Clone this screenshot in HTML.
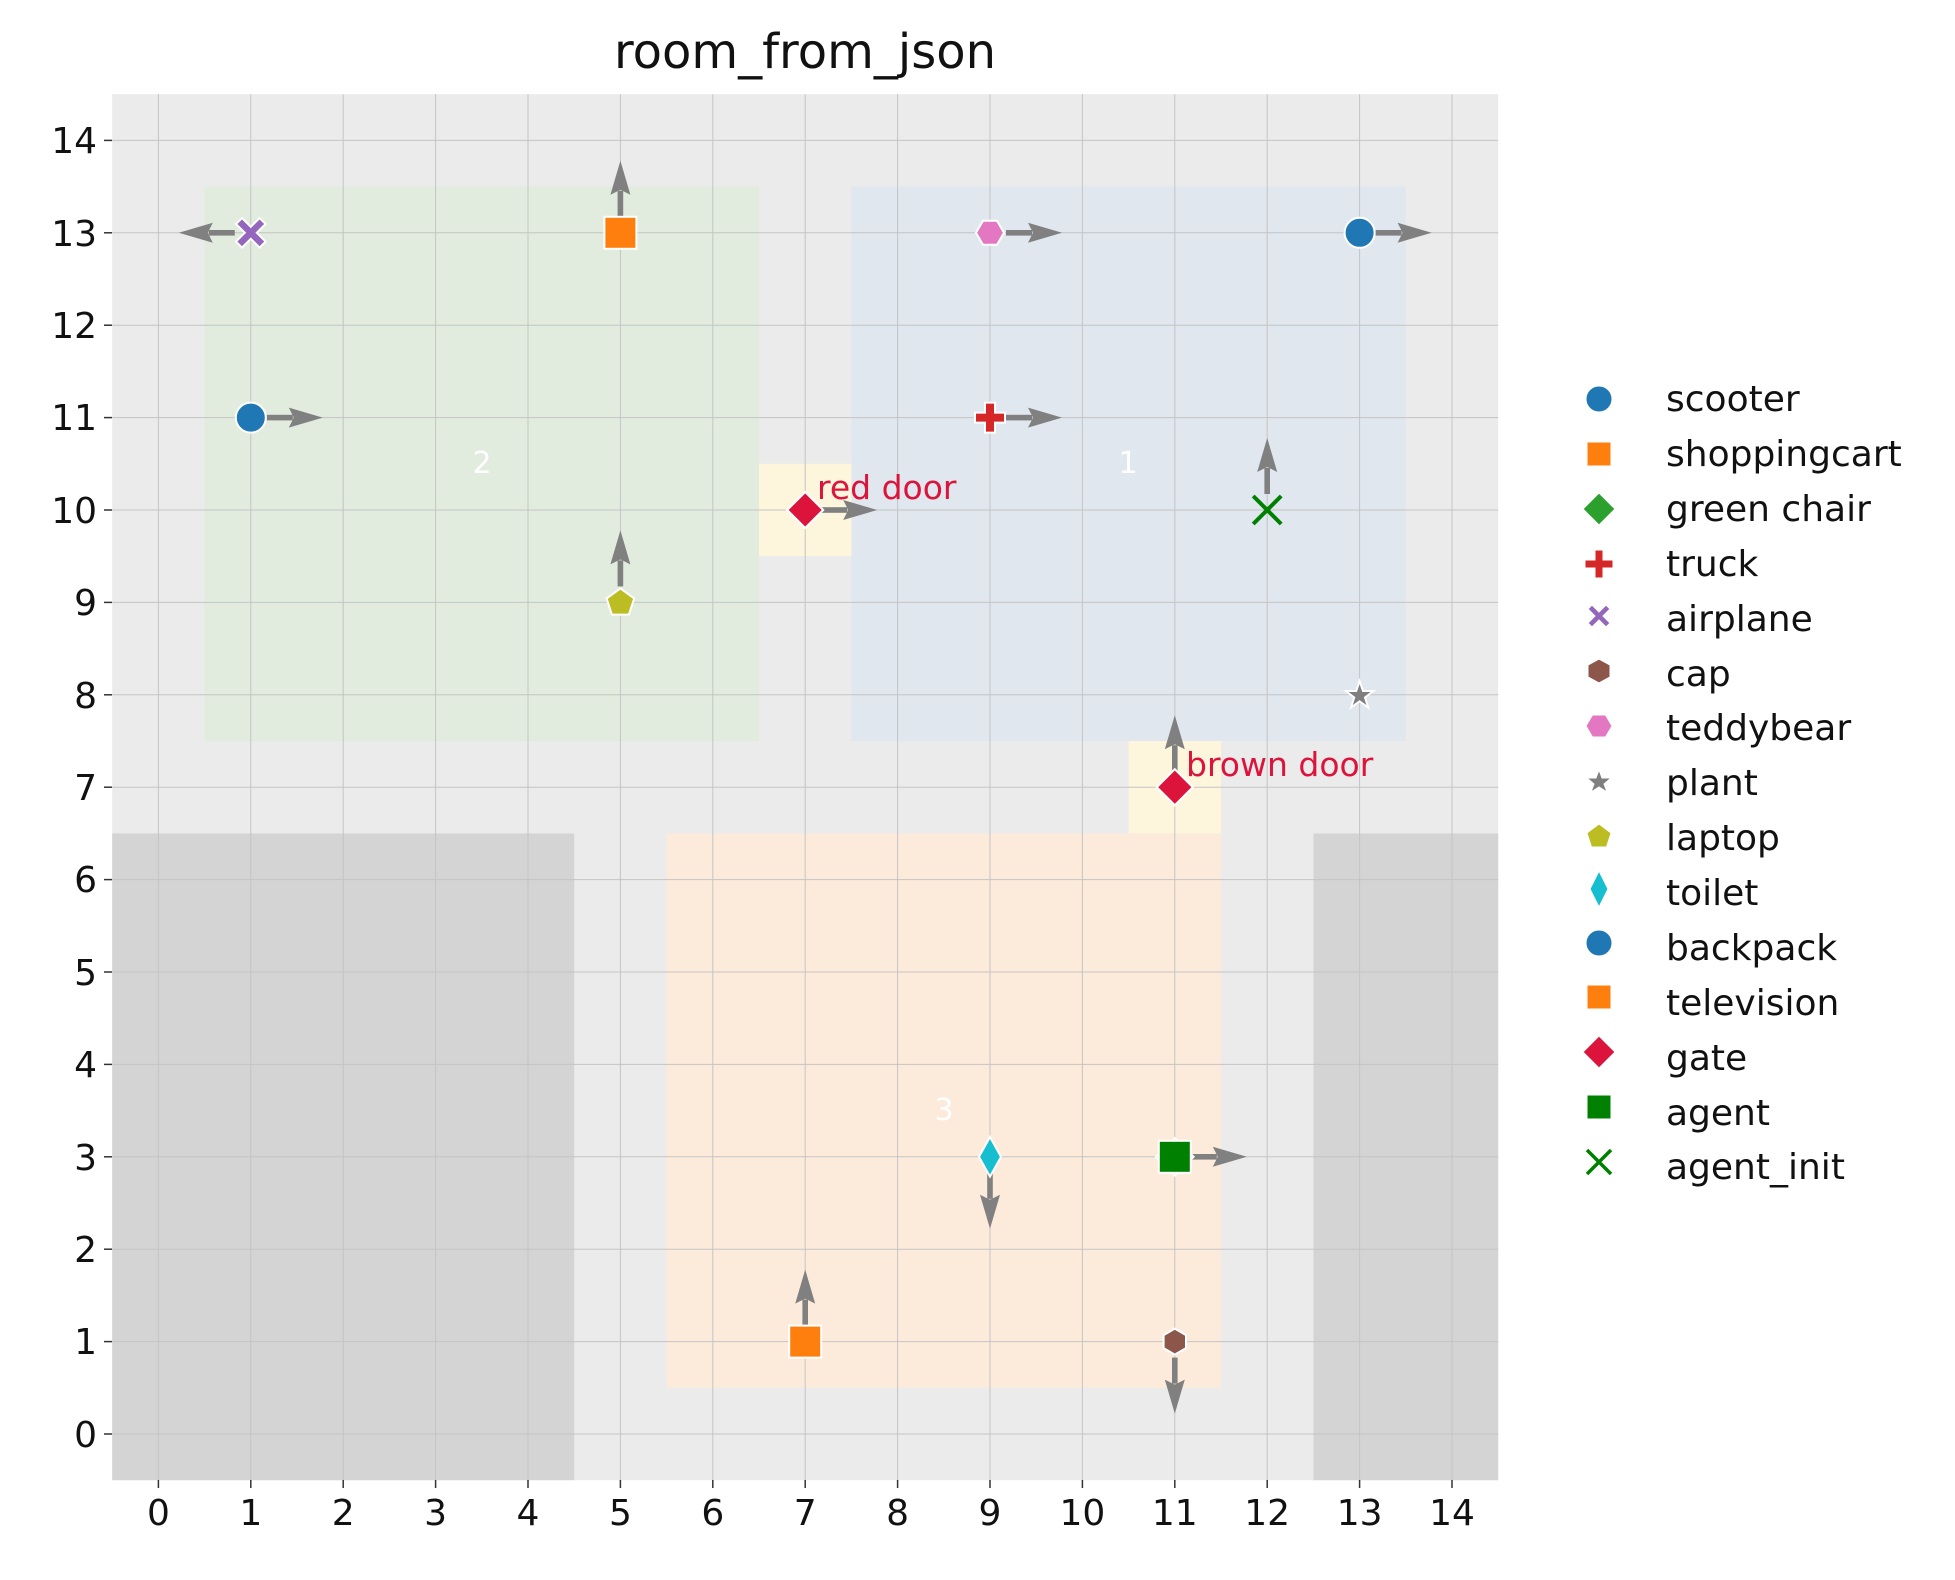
<!DOCTYPE html>
<html><head><meta charset="utf-8"><style>body{margin:0;background:#fff}svg{display:block;font-family:"DejaVu Sans","Liberation Sans",sans-serif}</style></head>
<body>
<svg width="1955" height="1580" viewBox="0 0 1955 1580" xmlns="http://www.w3.org/2000/svg">
<defs>
<g id="ar"><rect x="16" y="-2.8" width="26" height="5.6" fill="#808080"/><polygon points="38,-10 72,0 38,10 43,0" fill="#808080"/></g>
</defs>
<rect x="112.2" y="94.2" width="1386" height="1386" fill="#ebebeb"/>
<rect x="204.6" y="186.6" width="554.4" height="554.4" fill="#e1ecdf"/>
<rect x="851.4" y="186.6" width="554.4" height="554.4" fill="#e0e7ee"/>
<rect x="666.6" y="833.4" width="554.4" height="554.4" fill="#fcebdb"/>
<rect x="759" y="463.8" width="92.4" height="92.4" fill="#fdf6dc"/>
<rect x="1128.6" y="741" width="92.4" height="92.4" fill="#fdf6dc"/>
<rect x="112.2" y="833.4" width="462" height="646.8" fill="#d4d4d4"/>
<rect x="1313.4" y="833.4" width="184.8" height="646.8" fill="#d4d4d4"/>
<g stroke="#c4c4c4" stroke-width="1">
<line x1="158.4" y1="94.2" x2="158.4" y2="1480.2"/><line x1="250.8" y1="94.2" x2="250.8" y2="1480.2"/><line x1="343.2" y1="94.2" x2="343.2" y2="1480.2"/><line x1="435.6" y1="94.2" x2="435.6" y2="1480.2"/><line x1="528" y1="94.2" x2="528" y2="1480.2"/><line x1="620.4" y1="94.2" x2="620.4" y2="1480.2"/><line x1="712.8" y1="94.2" x2="712.8" y2="1480.2"/><line x1="805.2" y1="94.2" x2="805.2" y2="1480.2"/><line x1="897.6" y1="94.2" x2="897.6" y2="1480.2"/><line x1="990" y1="94.2" x2="990" y2="1480.2"/><line x1="1082.4" y1="94.2" x2="1082.4" y2="1480.2"/><line x1="1174.8" y1="94.2" x2="1174.8" y2="1480.2"/><line x1="1267.2" y1="94.2" x2="1267.2" y2="1480.2"/><line x1="1359.6" y1="94.2" x2="1359.6" y2="1480.2"/><line x1="1452" y1="94.2" x2="1452" y2="1480.2"/>
<line x1="112.2" y1="1434" x2="1498.2" y2="1434"/><line x1="112.2" y1="1341.6" x2="1498.2" y2="1341.6"/><line x1="112.2" y1="1249.2" x2="1498.2" y2="1249.2"/><line x1="112.2" y1="1156.8" x2="1498.2" y2="1156.8"/><line x1="112.2" y1="1064.4" x2="1498.2" y2="1064.4"/><line x1="112.2" y1="972" x2="1498.2" y2="972"/><line x1="112.2" y1="879.6" x2="1498.2" y2="879.6"/><line x1="112.2" y1="787.2" x2="1498.2" y2="787.2"/><line x1="112.2" y1="694.8" x2="1498.2" y2="694.8"/><line x1="112.2" y1="602.4" x2="1498.2" y2="602.4"/><line x1="112.2" y1="510" x2="1498.2" y2="510"/><line x1="112.2" y1="417.6" x2="1498.2" y2="417.6"/><line x1="112.2" y1="325.2" x2="1498.2" y2="325.2"/><line x1="112.2" y1="232.8" x2="1498.2" y2="232.8"/><line x1="112.2" y1="140.4" x2="1498.2" y2="140.4"/>
</g>
<g fill="#fff" font-size="30" text-anchor="middle">
<text x="482" y="473">2</text><text x="1128" y="473">1</text><text x="944" y="1120">3</text>
</g>
<g stroke="#333" stroke-width="1.5">
<line x1="104" y1="1434" x2="112" y2="1434"/><line x1="104" y1="1341.6" x2="112" y2="1341.6"/><line x1="104" y1="1249.2" x2="112" y2="1249.2"/><line x1="104" y1="1156.8" x2="112" y2="1156.8"/><line x1="104" y1="1064.4" x2="112" y2="1064.4"/><line x1="104" y1="972" x2="112" y2="972"/><line x1="104" y1="879.6" x2="112" y2="879.6"/><line x1="104" y1="787.2" x2="112" y2="787.2"/><line x1="104" y1="694.8" x2="112" y2="694.8"/><line x1="104" y1="602.4" x2="112" y2="602.4"/><line x1="104" y1="510" x2="112" y2="510"/><line x1="104" y1="417.6" x2="112" y2="417.6"/><line x1="104" y1="325.2" x2="112" y2="325.2"/><line x1="104" y1="232.8" x2="112" y2="232.8"/><line x1="104" y1="140.4" x2="112" y2="140.4"/>
<line x1="158.4" y1="1480" x2="158.4" y2="1488"/><line x1="250.8" y1="1480" x2="250.8" y2="1488"/><line x1="343.2" y1="1480" x2="343.2" y2="1488"/><line x1="435.6" y1="1480" x2="435.6" y2="1488"/><line x1="528" y1="1480" x2="528" y2="1488"/><line x1="620.4" y1="1480" x2="620.4" y2="1488"/><line x1="712.8" y1="1480" x2="712.8" y2="1488"/><line x1="805.2" y1="1480" x2="805.2" y2="1488"/><line x1="897.6" y1="1480" x2="897.6" y2="1488"/><line x1="990" y1="1480" x2="990" y2="1488"/><line x1="1082.4" y1="1480" x2="1082.4" y2="1488"/><line x1="1174.8" y1="1480" x2="1174.8" y2="1488"/><line x1="1267.2" y1="1480" x2="1267.2" y2="1488"/><line x1="1359.6" y1="1480" x2="1359.6" y2="1488"/><line x1="1452" y1="1480" x2="1452" y2="1488"/>
</g>
<g font-size="36" fill="#111" text-anchor="end">
<text x="97" y="1447">0</text><text x="97" y="1354">1</text><text x="97" y="1262">2</text><text x="97" y="1170">3</text><text x="97" y="1077">4</text><text x="97" y="985">5</text><text x="97" y="892">6</text><text x="97" y="800">7</text><text x="97" y="708">8</text><text x="97" y="615">9</text><text x="97" y="523">10</text><text x="97" y="430">11</text><text x="97" y="338">12</text><text x="97" y="246">13</text><text x="97" y="153">14</text>
</g>
<g font-size="36" fill="#111" text-anchor="middle">
<text x="158.4" y="1525">0</text><text x="250.8" y="1525">1</text><text x="343.2" y="1525">2</text><text x="435.6" y="1525">3</text><text x="528" y="1525">4</text><text x="620.4" y="1525">5</text><text x="712.8" y="1525">6</text><text x="805.2" y="1525">7</text><text x="897.6" y="1525">8</text><text x="990" y="1525">9</text><text x="1082.4" y="1525">10</text><text x="1174.8" y="1525">11</text><text x="1267.2" y="1525">12</text><text x="1359.6" y="1525">13</text><text x="1452" y="1525">14</text>
</g>
<text x="805" y="68" font-size="48" fill="#111" text-anchor="middle">room_from_json</text>
<use href="#ar" transform="translate(250.8,417.6)"/>
<use href="#ar" transform="translate(620.4,232.8) rotate(-90)"/>
<use href="#ar" transform="translate(250.8,232.8) rotate(180)"/>
<use href="#ar" transform="translate(990,232.8)"/>
<use href="#ar" transform="translate(1359.6,232.8)"/>
<use href="#ar" transform="translate(990,417.6)"/>
<use href="#ar" transform="translate(805.2,510)"/>
<use href="#ar" transform="translate(1267.2,510) rotate(-90)"/>
<use href="#ar" transform="translate(620.4,602.4) rotate(-90)"/>
<use href="#ar" transform="translate(1174.8,787.2) rotate(-90)"/>
<use href="#ar" transform="translate(990,1156.8) rotate(90)"/>
<use href="#ar" transform="translate(1174.8,1156.8)"/>
<use href="#ar" transform="translate(805.2,1341.6) rotate(-90)"/>
<use href="#ar" transform="translate(1174.8,1341.6) rotate(90)"/>
<g stroke="#fff" stroke-width="2">
<circle cx="250.8" cy="417.6" r="15" fill="#1f77b4"/>
<circle cx="1359.6" cy="232.8" r="15" fill="#1f77b4"/>
<rect x="604.4" y="216.8" width="32" height="32" fill="#ff7f0e"/>
<rect x="789.2" y="1325.6" width="32" height="32" fill="#ff7f0e"/>
<path d="M236,224 L242,218 L250.8,226.8 L259.6,218 L265.6,224 L256.8,232.8 L265.6,241.6 L259.6,247.6 L250.8,238.8 L242,247.6 L236,241.6 L244.8,232.8 Z" fill="#9467bd"/>
<polygon points="976,232.8 983,220.8 997,220.8 1004,232.8 997,244.8 983,244.8" fill="#e377c2"/>
<path d="M985,402.6 h10 v10 h10 v10 h-10 v10 h-10 v-10 h-10 v-10 h10 z" fill="#d62728"/>
<polygon points="805.2,492 823.2,510 805.2,528 787.2,510" fill="#dc143c"/>
<polygon points="1174.8,769.2 1192.8,787.2 1174.8,805.2 1156.8,787.2" fill="#dc143c"/>
<polygon points="620.4,588.4 634.2,598.4 628.9,614.6 611.9,614.6 606.6,598.4" fill="#bcbd22"/>
<polygon points="1359.6,681 1363,691 1373.5,691 1365,697.5 1368.2,707.5 1359.6,701.3 1351,707.5 1354.2,697.5 1345.7,691 1356.2,691" fill="#7f7f7f"/>
<polygon points="990,1137 1001,1156.8 990,1176.6 979,1156.8" fill="#17becf"/>
<polygon points="1174.8,1138 1193.6,1156.8 1174.8,1175.6 1156,1156.8" fill="#2ca02c"/>
<rect x="1158.8" y="1140.8" width="32" height="32" fill="#008000"/>
<polygon points="1161.8,1341.6 1168.3,1330.4 1181.3,1330.4 1187.8,1341.6 1181.3,1352.8 1168.3,1352.8" transform="rotate(90 1174.8 1341.6)" fill="#8c564b"/>
</g>
<path d="M1253.2,496 L1281.2,524 M1281.2,496 L1253.2,524" stroke="#008000" stroke-width="4"/>
<g font-size="33" fill="#dc143c">
<text x="817" y="499">red door</text><text x="1186" y="776">brown door</text>
</g>
<g stroke="#fff" stroke-width="1">
<circle cx="1599" cy="399" r="13" fill="#1f77b4"/>
<rect x="1587" y="442" width="24" height="24" fill="#ff7f0e"/>
<polygon points="1599,493 1615,509 1599,525 1583,509" fill="#2ca02c"/>
<path d="M1595,550 h8 v10 h10 v8 h-10 v10 h-8 v-10 h-10 v-8 h10 z" fill="#d62728"/>
<path d="M1588,609 L1592,605 L1599,612 L1606,605 L1610,609 L1603,616 L1610,623 L1606,627 L1599,620 L1592,627 L1588,623 L1595,616 Z" fill="#9467bd"/>
<polygon points="1599,659 1610,665 1610,677 1599,683 1588,677 1588,665" fill="#8c564b"/>
<polygon points="1586,726 1592.5,715 1605.5,715 1612,726 1605.5,737 1592.5,737" fill="#e377c2"/>
<polygon points="1599,770 1602,778 1611,778 1604,784 1607,792 1599,787 1591,792 1594,784 1587,778 1596,778" fill="#7f7f7f"/>
<polygon points="1599,824 1611,833 1606.5,847 1591.5,847 1587,833" fill="#bcbd22"/>
<polygon points="1599,871 1608,889 1599,907 1590,889" fill="#17becf"/>
<circle cx="1599" cy="943" r="13" fill="#1f77b4"/>
<rect x="1587" y="985" width="24" height="24" fill="#ff7f0e"/>
<polygon points="1599,1036 1615,1052 1599,1068 1583,1052" fill="#dc143c"/>
<rect x="1587" y="1095" width="24" height="24" fill="#008000"/>
</g>
<path d="M1587,1150 L1611,1174 M1611,1150 L1587,1174" stroke="#008000" stroke-width="3.5"/>
<g font-size="36" fill="#111">
<text x="1666" y="411">scooter</text>
<text x="1666" y="466">shoppingcart</text>
<text x="1666" y="521">green chair</text>
<text x="1666" y="576">truck</text>
<text x="1666" y="631">airplane</text>
<text x="1666" y="686">cap</text>
<text x="1666" y="740">teddybear</text>
<text x="1666" y="795">plant</text>
<text x="1666" y="850">laptop</text>
<text x="1666" y="905">toilet</text>
<text x="1666" y="960">backpack</text>
<text x="1666" y="1015">television</text>
<text x="1666" y="1070">gate</text>
<text x="1666" y="1125">agent</text>
<text x="1666" y="1179">agent_init</text>
</g>
</svg>
</body></html>
